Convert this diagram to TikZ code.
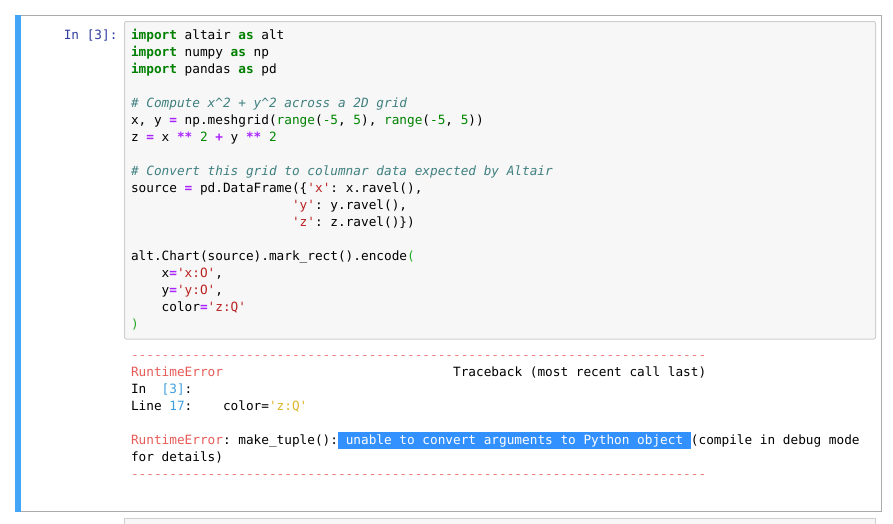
\documentclass[tikz,border=0pt]{standalone}
\usepackage{fontspec}
\setmonofont{DejaVu Sans Mono}
\definecolor{kwc}{HTML}{008000}
\definecolor{opc}{HTML}{AA22FF}
\definecolor{numc}{HTML}{008800}
\definecolor{strc}{HTML}{BA2121}
\definecolor{comc}{HTML}{408080}
\definecolor{mbc}{HTML}{22AA22}
\definecolor{promptc}{HTML}{303F9F}
\definecolor{ansired}{HTML}{E75C58}
\definecolor{ansiblue}{HTML}{3F9FDC}
\definecolor{ansiyel}{HTML}{DDB62B}
\definecolor{selc}{HTML}{3390FF}
\definecolor{cellborder}{HTML}{ABABAB}
\definecolor{inborder}{HTML}{CFCFCF}
\definecolor{inbg}{HTML}{F7F7F7}
\definecolor{selbar}{HTML}{42A5F5}
\newcommand\ckw[1]{\textcolor{kwc}{\bfseries #1}}
\newcommand\cop[1]{\textcolor{opc}{\bfseries #1}}
\newcommand\cnum[1]{\textcolor{numc}{#1}}
\newcommand\cbi[1]{\textcolor{kwc}{#1}}
\newcommand\cstr[1]{\textcolor{strc}{#1}}
\newcommand\ccom[1]{\textcolor{comc}{\itshape #1}}
\newcommand\cmb[1]{\textcolor{mbc}{#1}}
\newcommand\ared[1]{\textcolor{ansired}{#1}}
\newcommand\ablue[1]{\textcolor{ansiblue}{#1}}
\newcommand\ayel[1]{\textcolor{ansiyel}{#1}}
\newcommand\dashrow{---------------------------------------------------------------------------}
\begin{document}
\begin{tikzpicture}[x=1pt,y=-1pt,
  codetext/.style={anchor=base west,inner sep=0pt,outer sep=0pt,
    font=\ttfamily\fontsize{12.74pt}{17pt}\selectfont,text=black},
  prompttext/.style={codetext,anchor=base east,text=promptc},
  dashtext/.style={codetext,text=ansired!80},
  seltext/.style={codetext,fill=selc,text=white,text height=12.3pt,text depth=4.2pt}]
\fill[white] (0,0) rectangle (893,523);
\useasboundingbox (0,0) rectangle (893,523);
% cell frame
\draw[cellborder,line width=1pt] (15.5,15.5) rectangle (881.5,511.5);
\fill[selbar] (15,15) rectangle (20.5,512);
% input area
\draw[inborder,fill=inbg,line width=1pt,rounded corners=2pt] (124.5,21.5) rectangle (875.5,339);
% next cell
\fill[inbg] (124.5,518.5) rectangle (875.5,524);
\draw[inborder,line width=1pt] (124.5,524) -- (124.5,518.5) -- (875.5,518.5) -- (875.5,524);
% prompt
\node[prompttext] (prompt) at (117.5,39.5) {In [3]:};
% code
\def\cw{7.67}
\node[codetext] (c1) at (131,39.5) {\ckw{import} altair \ckw{as} alt};
\node[codetext] (c2) at (131,56.5) {\ckw{import} numpy \ckw{as} np};
\node[codetext] (c3) at (131,73.5) {\ckw{import} pandas \ckw{as} pd};
\node[codetext] (c5) at (131,107.5) {\ccom{\# Compute x\textasciicircum 2 + y\textasciicircum 2 across a 2D grid}};
\node[codetext] (c6) at (131,124.5) {x, y \cop{=} np.meshgrid(\cbi{range}(\cnum{-5}, \cnum{5}), \cbi{range}(\cnum{-5}, \cnum{5}))};
\node[codetext] (c7) at (131,141.5) {z \cop{=} x \cop{**} \cnum{2} \cop{+} y \cop{**} \cnum{2}};
\node[codetext] (c9) at (131,175.5) {\ccom{\# Convert this grid to columnar data expected by Altair}};
\node[codetext] (c10) at (131,192.5) {source \cop{=} pd.DataFrame(\{\cstr{'x'}: x.ravel(),};
\node[codetext] (c11) at ({131+21*\cw},209.5) {\cstr{'y'}: y.ravel(),};
\node[codetext] (c12) at ({131+21*\cw},226.5) {\cstr{'z'}: z.ravel()\})};
\node[codetext] (c14) at (131,260.5) {alt.Chart(source).mark\_rect().encode\cmb{(}};
\node[codetext] (c15) at ({131+4*\cw},277.5) {x\cop{=}\cstr{'x:O'},};
\node[codetext] (c16) at ({131+4*\cw},294.5) {y\cop{=}\cstr{'y:O'},};
\node[codetext] (c17) at ({131+4*\cw},311.5) {color\cop{=}\cstr{'z:Q'}};
\node[codetext] (c18) at (131,328.5) {\cmb{)}};
% output
\node[dashtext] (o0) at (131,359.7) {\dashrow};
\node[codetext] (o1a) at (131,376.7) {\ared{RuntimeError}};
\node[codetext] (o1b) at ({131+42*\cw},376.7) {Traceback (most recent call last)};
\node[codetext] (o2a) at (131,393.7) {In};
\node[codetext] (o2b) at ({131+4*\cw},393.7) {\ablue{[3]}:};
\node[codetext] (o3a) at (131,410.7) {Line \ablue{17}:};
\node[codetext] (o3b) at ({131+12*\cw},410.7) {color=\ayel{'z:Q'}};
\node[codetext] (o5a) at (131,444.7) {\ared{RuntimeError}: make\_tuple():};
\node[seltext] (o5b) at ({131+27*\cw},444.7) {\mbox{\ }unable to convert arguments to Python object\mbox{\ }};
\node[codetext] (o5c) at ({131+73*\cw},444.7) {(compile in debug mode};
\node[codetext] (o6) at (131,461.7) {for details)};
\node[dashtext] (o7) at (131,478.7) {\dashrow};
\end{tikzpicture}
\end{document}
